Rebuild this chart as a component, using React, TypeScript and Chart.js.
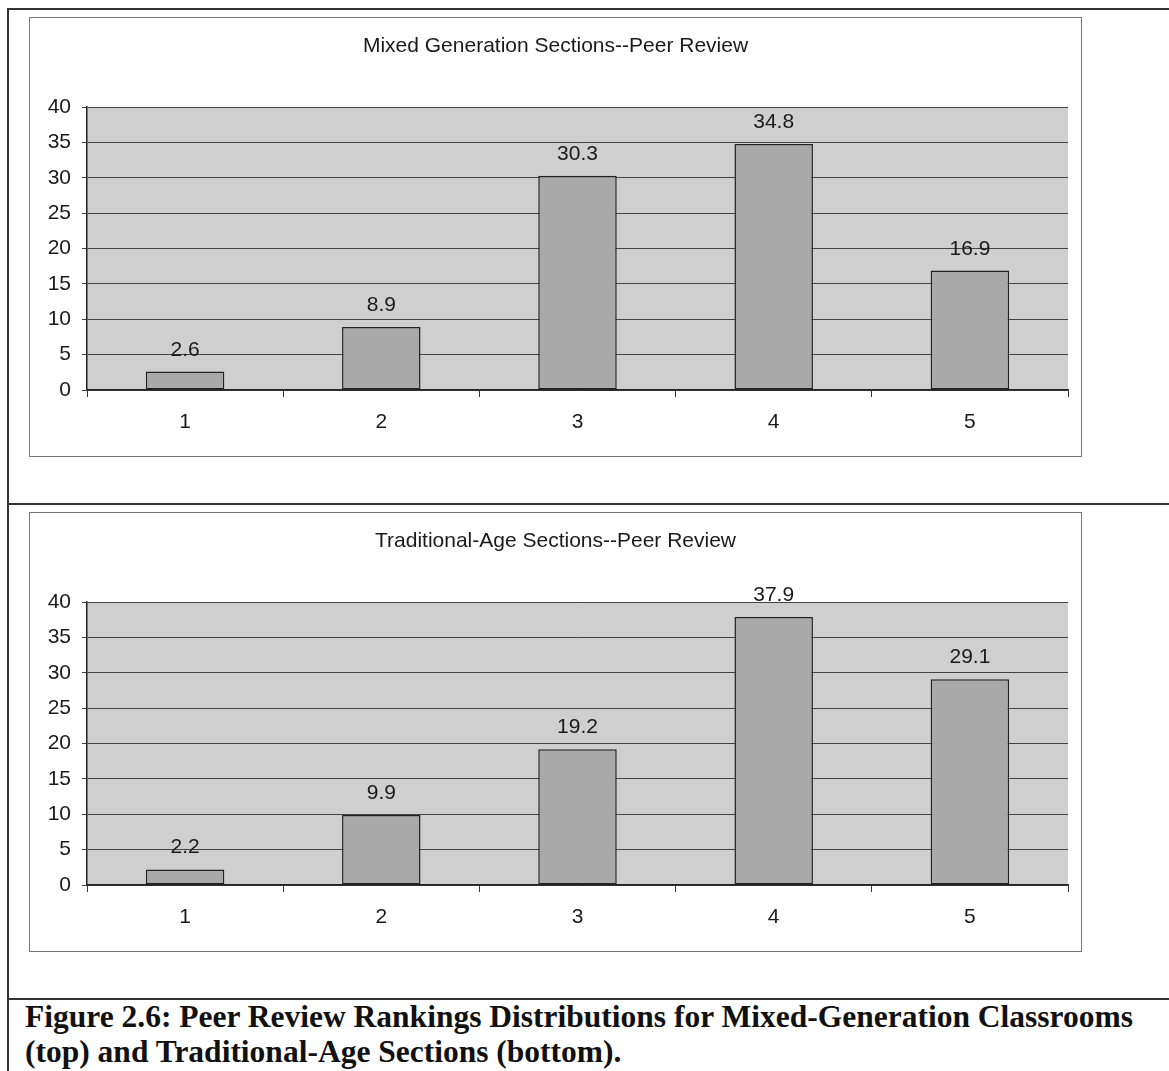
import React, { useEffect, useRef } from 'react';
import Chart from 'chart.js/auto';

// ranking categories shared by both panels
const rankLabels = ['1', '2', '3', '4', '5'];
const yTicks = [0, 5, 10, 15, 20, 25, 30, 35, 40];

const mixedTitle = 'Mixed Generation Sections--Peer Review';
const mixedValues = [2.6, 8.9, 30.3, 34.8, 16.9];

const tradTitle = 'Traditional-Age Sections--Peer Review';
const tradValues = [2.2, 9.9, 19.2, 37.9, 29.1];

const captionLines = [
    'Figure 2.6: Peer Review Rankings Distributions for Mixed-Generation Classrooms',
    '(top) and Traditional-Age Sections (bottom).'
];

const FONT = '"Liberation Sans", Arial, sans-serif';
const INK = '#1a1a1a';

// grey plot-area fill like the old Excel default
const plotBg = {
    id: 'plotBg',
    beforeDraw(chart: any) {
        const { ctx, chartArea } = chart;
        if (!chartArea) return;
        ctx.save();
        ctx.fillStyle = '#cfcfcf';
        ctx.fillRect(chartArea.left, chartArea.top, chartArea.right - chartArea.left, chartArea.bottom - chartArea.top);
        ctx.restore();
    }
};

// value labels above each bar
const barValues = {
    id: 'barValues',
    afterDatasetsDraw(chart: any) {
        const { ctx } = chart;
        const meta = chart.getDatasetMeta(0);
        const vals = chart.data.datasets[0].data as number[];
        ctx.save();
        ctx.font = `21px ${FONT}`;
        ctx.fillStyle = INK;
        ctx.textAlign = 'center';
        ctx.textBaseline = 'alphabetic';
        meta.data.forEach((bar: any, i: number) => {
            ctx.fillText(vals[i].toFixed(1), bar.x, bar.y - 16);
        });
        ctx.restore();
    }
};

interface PanelProps {
    title: string;
    values: number[];
    top: number;
}

const BarPanel: React.FC<PanelProps> = ({ title, values, top }) => {
    const canvasRef = useRef<HTMLCanvasElement>(null);
    const chartRef = useRef<Chart | null>(null);

    useEffect(() => {
        if (!canvasRef.current) return;
        if (chartRef.current) chartRef.current.destroy();

        chartRef.current = new Chart(canvasRef.current, {
            type: 'bar',
            data: {
                labels: rankLabels,
                datasets: [{
                    data: values,
                    backgroundColor: '#a9a9a9',
                    borderColor: '#222',
                    borderWidth: 1.5,
                    borderSkipped: false,
                    barPercentage: 0.4,
                    categoryPercentage: 1
                }]
            },
            options: {
                responsive: false,
                animation: false,
                layout: { padding: { left: 13, right: 13, top: 0, bottom: 0 } },
                scales: {
                    x: {
                        grid: {
                            offset: true,
                            drawOnChartArea: false,
                            drawTicks: true,
                            tickLength: 7,
                            color: '#333'
                        },
                        border: { display: true, color: '#222', width: 1.5 },
                        ticks: { color: INK, font: { family: FONT, size: 21 }, padding: 13 },
                        afterFit: (s: any) => { s.height = 66; }
                    },
                    y: {
                        min: 0,
                        max: 40,
                        afterBuildTicks: (s: any) => { s.ticks = yTicks.map(v => ({ value: v })); },
                        grid: { color: '#444', lineWidth: 1, tickLength: 5 },
                        border: { display: true, color: '#222', width: 1.5 },
                        ticks: { color: INK, font: { family: FONT, size: 21 }, padding: 11 },
                        afterFit: (s: any) => { s.width = 44; }
                    }
                },
                plugins: {
                    legend: { display: false },
                    tooltip: { enabled: false },
                    title: {
                        display: true,
                        text: title,
                        color: INK,
                        font: { family: FONT, size: 21, weight: 'normal', lineHeight: 1.2 },
                        padding: { top: 16, bottom: 48 }
                    }
                }
            },
            plugins: [plotBg, barValues]
        });

        return () => {
            if (chartRef.current) {
                chartRef.current.destroy();
                chartRef.current = null;
            }
        };
    }, [title, values]);

    return (
        <div style={{
            position: 'absolute', left: 29, top, width: 1053, height: 440,
            border: '1px solid #777', boxSizing: 'border-box', background: '#fff'
        }}>
            <canvas ref={canvasRef} width={1051} height={438} style={{ display: 'block' }} />
        </div>
    );
};

const line = (style: React.CSSProperties) => (
    <div style={{ position: 'absolute', background: '#333', ...style }} />
);

export default function App() {
    return (
        <div style={{ position: 'absolute', left: 0, top: 0, width: 1169, height: 1071, overflow: 'hidden', background: '#fff' }}>
            {line({ left: 7, top: 8, width: 1162, height: 2 })}
            {line({ left: 7, top: 8, width: 2, height: 1063 })}
            {line({ left: 7, top: 503, width: 1162, height: 2 })}
            {line({ left: 7, top: 998, width: 1162, height: 2 })}
            <BarPanel title={mixedTitle} values={mixedValues} top={17} />
            <BarPanel title={tradTitle} values={tradValues} top={512} />
            <div style={{
                position: 'absolute', left: 25, top: 999, width: 1140, whiteSpace: 'nowrap',
                fontFamily: '"Liberation Serif", "Times New Roman", serif',
                fontWeight: 'bold', fontSize: 31.5, lineHeight: '35px', color: '#111'
            }}>
                {captionLines.map((t, i) => <div key={i}>{t}</div>)}
            </div>
        </div>
    );
}
